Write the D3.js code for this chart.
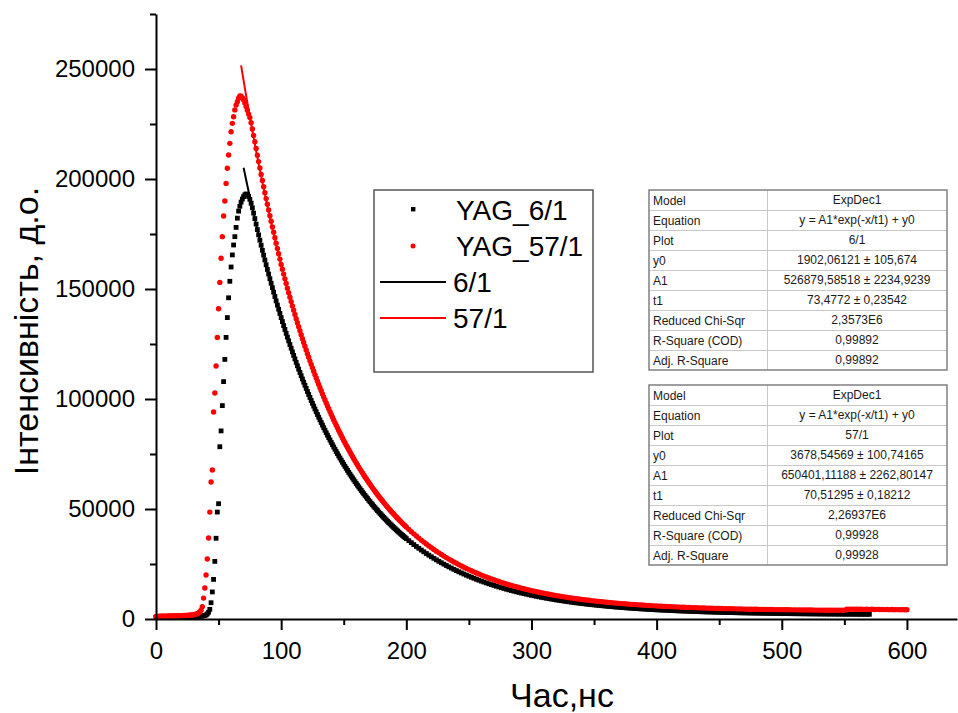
<!DOCTYPE html>
<html>
<head>
<meta charset="utf-8">
<script src="https://cdn.jsdelivr.net/npm/d3@7"></script>
<style>
  html, body { margin: 0; padding: 0; background: #fff; }
  svg { display: block; font-family: "Liberation Sans", Arial, sans-serif; }
</style>
</head>
<body>
<svg id="chart" width="958" height="713"></svg>
<script>
// Sampling grid, ns: 1 ns steps up to 199 ns, then 2 ns steps to 600 ns
const timeFine = d3.range(0, 200, 1);
const timeCoarse = d3.range(200, 601, 2);
const timeNs = timeFine.concat(timeCoarse);

// YAG_6/1 decay, counts (record ends at 570 ns)
const yag6 = [
  800, 820, 790, 830, 850, 820, 860, 880, 850, 870,
  900, 880, 910, 930, 900, 940, 960, 950, 980, 1000,
  990, 1010, 1030, 1020, 1050, 1070, 1060, 1090, 1110, 1100,
  1130, 1150, 1170, 1200, 1230, 1270, 1320, 1380, 1470, 1600,
  1850, 2300, 3100, 4400, 7400, 12300, 18000, 26200, 36700, 48600,
  52400, 78300, 85500, 97000, 107900, 118000, 128000, 137000, 146000, 153500,
  160000, 165500, 170000, 173800, 178000, 182200, 185400, 187600, 189500, 190900,
  192000, 192800, 193200, 192900, 192100, 190800, 189000, 186900, 184500, 182000,
  179500, 177000, 174600, 172200, 169900, 167600, 165400, 163200, 161000, 158900,
  156800, 154700, 152600, 150600, 148600, 146600, 144600, 142700, 140800, 138900,
  137010, 135180, 133380, 131610, 129850, 128120, 126420, 124730, 123070, 121430,
  119820, 118220, 116650, 115100, 113570, 112060, 110570, 109100, 107650, 106230,
  104810, 103420, 102050, 100700, 99360, 98050, 96750, 95460, 94200, 92950,
  91720, 90510, 89310, 88130, 86960, 85810, 84680, 83560, 82450, 81370,
  80290, 79230, 78190, 77160, 76140, 75140, 74140, 73170, 72200, 71250,
  70320, 69390, 68480, 67580, 66690, 65820, 64950, 64100, 63260, 62430,
  61610, 60800, 60010, 59220, 58450, 57680, 56930, 56190, 55450, 54730,
  54010, 53310, 52610, 51930, 51250, 50590, 49930, 49280, 48640, 48010,
  47380, 46770, 46160, 45560, 44970, 44390, 43820, 43250, 42690, 42140,
  41600, 41060, 40530, 40010, 39490, 38980, 38480, 37990, 37500, 37020,
  36550, 35620, 34710, 33830, 32970, 32140, 31330, 30540, 29770, 29020,
  28290, 27580, 26890, 26220, 25570, 24930, 24320, 23710, 23130, 22560,
  22000, 21460, 20940, 20430, 19930, 19450, 18970, 18520, 18070, 17640,
  17210, 16800, 16400, 16010, 15630, 15270, 14910, 14560, 14220, 13890,
  13560, 13250, 12950, 12650, 12360, 12080, 11810, 11540, 11280, 11030,
  10790, 10550, 10320, 10090, 9870, 9660, 9450, 9240, 9050, 8860,
  8670, 8490, 8310, 8140, 7970, 7810, 7650, 7490, 7340, 7200,
  7060, 6920, 6780, 6650, 6520, 6400, 6280, 6160, 6050, 5940,
  5830, 5720, 5620, 5520, 5420, 5330, 5240, 5150, 5060, 4980,
  4890, 4810, 4730, 4660, 4580, 4510, 4440, 4370, 4310, 4240,
  4180, 4120, 4060, 4000, 3950, 3890, 3840, 3790, 3730, 3690,
  3640, 3590, 3550, 3500, 3460, 3420, 3380, 3340, 3300, 3260,
  3220, 3190, 3150, 3120, 3090, 3060, 3020, 2990, 2970, 2940,
  2910, 2880, 2860, 2830, 2800, 2780, 2760, 2730, 2710, 2690,
  2670, 2650, 2630, 2610, 2590, 2570, 2550, 2540, 2520, 2500,
  2490, 2470, 2460, 2440, 2430, 2410, 2400, 2390, 2370, 2360,
  2350, 2340, 2320, 2310, 2300, 2290, 2280, 2270, 2260, 2250,
  2240, 2230, 2220, 2210, 2210, 2200, 2190, 2180, 2180, 2170,
  2160, 2150, 2150, 2140, 2130, 2130
];

// YAG_57/1 decay, counts (record ends at 600 ns)
const yag57 = [
  1150, 1200, 1180, 1220, 1250, 1230, 1270, 1300, 1280, 1320,
  1350, 1330, 1370, 1400, 1380, 1420, 1450, 1440, 1480, 1500,
  1520, 1540, 1570, 1600, 1630, 1660, 1700, 1750, 1800, 1870,
  1950, 2050, 2200, 2400, 2700, 3200, 4000, 5600, 9500, 14100,
  20000, 27300, 36800, 48600, 62300, 67700, 94100, 102700, 115000, 128000,
  141000, 153000, 164000, 173800, 183200, 190000, 198000, 204900, 210900, 216200,
  221500, 225300, 228300, 231400, 233600, 235100, 236700, 237700, 237600, 237000,
  236000, 234600, 233000, 231200, 229500, 227900, 225600, 222700, 219800, 216900,
  213900, 210800, 207900, 205000, 202100, 199300, 196500, 193800, 191100, 188500,
  185900, 183300, 180800, 178200, 175800, 173300, 170800, 168400, 166000, 163600,
  161170, 158950, 156770, 154610, 152490, 150390, 148330, 146290, 144280, 142300,
  140350, 138420, 136530, 134660, 132810, 130990, 129200, 127430, 125690, 123970,
  122280, 120610, 118960, 117340, 115740, 114160, 112600, 111070, 109560, 108070,
  106600, 105150, 103720, 102310, 100920, 99550, 98200, 96870, 95560, 94270,
  92990, 91730, 90490, 89270, 88060, 86880, 85700, 84550, 83410, 82290,
  81180, 80090, 79010, 77950, 76910, 75880, 74860, 73860, 72870, 71890,
  70930, 69990, 69050, 68130, 67220, 66330, 65450, 64580, 63720, 62880,
  62040, 61220, 60410, 59610, 58820, 58050, 57280, 56530, 55780, 55050,
  54320, 53610, 52910, 52220, 51530, 50860, 50190, 49540, 48890, 48260,
  47630, 47010, 46400, 45800, 45200, 44620, 44040, 43480, 42910, 42360,
  41820, 40750, 39710, 38710, 37730, 36770, 35850, 34950, 34070, 33220,
  32400, 31600, 30810, 30060, 29320, 28600, 27900, 27230, 26570, 25930,
  25310, 24700, 24110, 23540, 22990, 22450, 21920, 21410, 20910, 20430,
  19960, 19510, 19070, 18640, 18220, 17810, 17420, 17030, 16660, 16300,
  15940, 15600, 15270, 14940, 14630, 14320, 14020, 13730, 13450, 13180,
  12910, 12660, 12410, 12160, 11920, 11690, 11470, 11250, 11040, 10830,
  10630, 10440, 10250, 10070, 9890, 9710, 9550, 9380, 9220, 9070,
  8920, 8770, 8630, 8490, 8350, 8220, 8100, 7970, 7850, 7740,
  7620, 7510, 7410, 7300, 7200, 7100, 7010, 6910, 6820, 6730,
  6650, 6570, 6480, 6410, 6330, 6260, 6180, 6110, 6050, 5980,
  5920, 5850, 5790, 5730, 5680, 5620, 5570, 5510, 5460, 5410,
  5360, 5320, 5270, 5230, 5180, 5140, 5100, 5060, 5020, 4980,
  4950, 4910, 4880, 4840, 4810, 4780, 4750, 4720, 4690, 4660,
  4630, 4610, 4580, 4560, 4530, 4510, 4480, 4460, 4440, 4420,
  4400, 4380, 4360, 4340, 4320, 4300, 4290, 4270, 4250, 4240,
  4220, 4210, 4190, 4180, 4160, 4150, 4140, 4120, 4110, 4100,
  4090, 4080, 4060, 4050, 4040, 4030, 4020, 4010, 4000, 3990,
  3990, 3980, 3970, 3960, 3950, 3950, 4400, 4450, 4500, 4420,
  4480, 4400, 4450, 4380, 4420, 4350, 4400, 4330, 4380, 4300,
  4350, 4280, 4320, 4250, 4300, 4230, 4280, 4200, 4250, 4180,
  4200
];

// ExpDec1 fit results: y = A1*exp(-x/t1) + y0, [6/1, 57/1]
const fitNames = ["6/1", "57/1"];
const fitY0 = [1902.06121, 3678.54569];
const fitY0Err = [105.674, 100.74165];
const fitA1 = [526879.58518, 650401.11188];
const fitA1Err = [2234.9239, 2262.80147];
const fitT1 = [73.4772, 70.51295];
const fitT1Err = [0.23542, 0.18212];
const fitChiSqr = ["2,3573E6", "2,26937E6"];
const fitR2 = [0.99892, 0.99928];
const fitAdjR2 = [0.99892, 0.99928];
const fitFrom = [70, 68];
const fitTo = [570, 600];

const tableLabels = ["Model", "Equation", "Plot", "y0", "A1", "t1",
  "Reduced Chi-Sqr", "R-Square (COD)", "Adj. R-Square"];

const xMajor = [0, 100, 200, 300, 400, 500, 600];
const xMinor = [50, 150, 250, 350, 450, 550];
const yMajor = [0, 50000, 100000, 150000, 200000, 250000];
const yMinor = [25000, 75000, 125000, 175000, 225000, 275000];

const legendLabels = ["YAG_6/1", "YAG_57/1", "6/1", "57/1"];
const seriesColors = ["#000000", "#ff0000"];

const svg = d3.select("#chart");

const x = d3.scaleLinear().domain([0, 640]).range([156, 957]);
const y = d3.scaleLinear().domain([0, 275000]).range([619, 14]);

// scatter: 6/1 squares, then 57/1 dots on top
const pts6 = yag6.map((v, i) => [timeNs[i], v]);
const pts57 = yag57.map((v, i) => [timeNs[i], v]);

svg.append("g").selectAll("rect").data(pts6).join("rect")
  .attr("x", d => x(d[0]) - 2.4)
  .attr("y", d => y(d[1]) - 2.4)
  .attr("width", 4.8).attr("height", 4.8)
  .attr("fill", seriesColors[0]);

svg.append("g").selectAll("circle").data(pts57).join("circle")
  .attr("cx", d => x(d[0]))
  .attr("cy", d => y(d[1]))
  .attr("r", 2.7)
  .attr("fill", seriesColors[1]);

// fitted ExpDec1 curves
const line = d3.line().x(d => x(d[0])).y(d => y(d[1]));
fitNames.forEach((name, k) => {
  const curve = d3.range(fitFrom[k], fitTo[k] + 0.001, 0.5)
    .map(t => [t, fitA1[k] * Math.exp(-t / fitT1[k]) + fitY0[k]]);
  svg.append("path").datum(curve)
    .attr("d", line)
    .attr("fill", "none")
    .attr("stroke", seriesColors[k])
    .attr("stroke-width", 2);
});

// axes
function styleAxis(g) {
  g.selectAll("path.domain").attr("stroke", "#000").attr("stroke-width", 2);
  g.selectAll(".tick line").attr("stroke", "#000").attr("stroke-width", 2);
  g.selectAll(".tick text").attr("fill", "#000")
    .style("font-family", "'Liberation Sans', Arial, sans-serif");
}

const gx = svg.append("g").attr("transform", "translate(0,619)")
  .call(d3.axisBottom(x).tickValues(xMajor).tickSize(11).tickSizeOuter(0)
    .tickPadding(12).tickFormat(d3.format("d")));
gx.selectAll(".tick text").style("font-size", "24px");
styleAxis(gx);

const gxm = svg.append("g").attr("transform", "translate(0,619)")
  .call(d3.axisBottom(x).tickValues(xMinor).tickSize(6).tickSizeOuter(0).tickFormat(""));
gxm.select("path.domain").remove();
styleAxis(gxm);

const gy = svg.append("g").attr("transform", "translate(156,0)")
  .call(d3.axisLeft(y).tickValues(yMajor).tickSize(11).tickSizeOuter(0)
    .tickPadding(10).tickFormat(d3.format("d")));
gy.selectAll(".tick text").style("font-size", "24px");
styleAxis(gy);

const gym = svg.append("g").attr("transform", "translate(156,0)")
  .call(d3.axisLeft(y).tickValues(yMinor).tickSize(6).tickSizeOuter(0).tickFormat(""));
gym.select("path.domain").remove();
styleAxis(gym);

// axis titles
svg.append("text")
  .attr("x", 562).attr("y", 707)
  .attr("text-anchor", "middle")
  .style("font-size", "34px")
  .text("Час,нс");

svg.append("text")
  .attr("transform", "translate(38,331) rotate(-90)")
  .attr("text-anchor", "middle")
  .style("font-size", "34px")
  .text("Інтенсивність, д.о.");

// legend
const lg = svg.append("g");
lg.append("rect")
  .attr("x", 374).attr("y", 190).attr("width", 219).attr("height", 182)
  .attr("fill", "#fff").attr("stroke", "#555").attr("stroke-width", 1.5);

const rowY = [220, 256, 292, 328];
lg.append("rect").attr("x", 411).attr("y", rowY[0] - 13).attr("width", 4.4).attr("height", 4.4)
  .attr("fill", seriesColors[0]);
lg.append("circle").attr("cx", 413).attr("cy", rowY[1] - 10).attr("r", 2.5)
  .attr("fill", seriesColors[1]);
lg.append("line").attr("x1", 380).attr("x2", 446).attr("y1", rowY[2] - 10).attr("y2", rowY[2] - 10)
  .attr("stroke", seriesColors[0]).attr("stroke-width", 2);
lg.append("line").attr("x1", 380).attr("x2", 446).attr("y1", rowY[3] - 10).attr("y2", rowY[3] - 10)
  .attr("stroke", seriesColors[1]).attr("stroke-width", 2);

lg.selectAll("text.lbl").data(legendLabels).join("text")
  .attr("class", "lbl")
  .attr("x", (d, i) => i < 2 ? 456 : 453)
  .attr("y", (d, i) => rowY[i])
  .style("font-size", "28px")
  .attr("fill", "#000")
  .text(d => d);

// fit result tables
const comma = v => String(v).replace(".", ",");
function drawTable(top, k) {
  const values = [
    "ExpDec1",
    "y = A1*exp(-x/t1) + y0",
    fitNames[k],
    comma(fitY0[k]) + " ± " + comma(fitY0Err[k]),
    comma(fitA1[k]) + " ± " + comma(fitA1Err[k]),
    comma(fitT1[k]) + " ± " + comma(fitT1Err[k]),
    fitChiSqr[k],
    comma(fitR2[k]),
    comma(fitAdjR2[k])
  ];
  const left = 649, right = 947, mid = 767, rowH = 20;
  const g = svg.append("g");
  g.append("rect").attr("x", left).attr("y", top)
    .attr("width", right - left).attr("height", rowH * tableLabels.length)
    .attr("fill", "#fff");
  tableLabels.forEach((lab, r) => {
    if (r > 0) {
      g.append("line").attr("x1", left).attr("x2", right)
        .attr("y1", top + r * rowH + 0.5).attr("y2", top + r * rowH + 0.5)
        .attr("stroke", "#c8c8c8").attr("stroke-width", 1);
    }
    g.append("text").attr("x", left + 4).attr("y", top + r * rowH + 15)
      .style("font-size", "12px").attr("fill", "#1a1a1a").text(lab);
    g.append("text").attr("x", (mid + right) / 2).attr("y", top + r * rowH + 14)
      .attr("text-anchor", "middle")
      .style("font-size", "12px").attr("fill", "#1a1a1a").text(values[r]);
  });
  g.append("line").attr("x1", mid + 0.5).attr("x2", mid + 0.5)
    .attr("y1", top).attr("y2", top + rowH * tableLabels.length)
    .attr("stroke", "#c8c8c8").attr("stroke-width", 1);
  g.append("rect").attr("x", left).attr("y", top)
    .attr("width", right - left).attr("height", rowH * tableLabels.length)
    .attr("fill", "none").attr("stroke", "#808080").attr("stroke-width", 1.5);
}
drawTable(190, 0);
drawTable(385, 1);
</script>
</body>
</html>
